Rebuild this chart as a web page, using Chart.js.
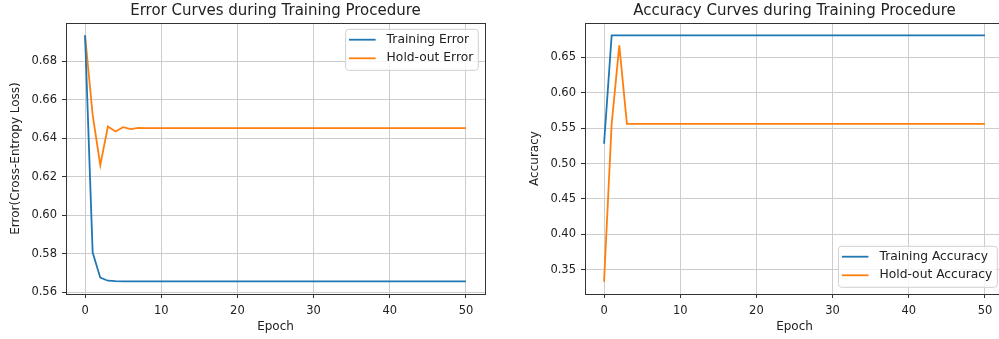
<!DOCTYPE html>
<html>
<head>
<meta charset="utf-8">
<script src="https://cdn.jsdelivr.net/npm/chart.js@4.4.1/dist/chart.umd.min.js"></script>
<style>
html, body { margin: 0; padding: 0; background: #fff; width: 999px; height: 339px; overflow: hidden; }
#errChart { position: absolute; left: 0; top: 0; }
#accChart { position: absolute; left: 500px; top: 0; }
</style>
</head>
<body>
<canvas id="errChart" width="500" height="339"></canvas>
<canvas id="accChart" width="519" height="339"></canvas>
<script>
// data
const epochs = [0,1,2,3,4,5,6,7,8,9,10,11,12,13,14,15,16,17,18,19,20,21,22,23,24,25,
  26,27,28,29,30,31,32,33,34,35,36,37,38,39,40,41,42,43,44,45,46,47,48,49,50];

const trainErr = [0.6935,0.5806,0.5676,0.5660,0.5658,0.5657,0.5657,0.5657,0.5657,0.5657,
  0.5657,0.5657,0.5657,0.5657,0.5657,0.5657,0.5657,0.5657,0.5657,0.5657,
  0.5657,0.5657,0.5657,0.5657,0.5657,0.5657,0.5657,0.5657,0.5657,0.5657,
  0.5657,0.5657,0.5657,0.5657,0.5657,0.5657,0.5657,0.5657,0.5657,0.5657,
  0.5657,0.5657,0.5657,0.5657,0.5657,0.5657,0.5657,0.5657,0.5657,0.5657,0.5657];

const holdErr = [0.6935,0.6522,0.6260,0.6461,0.6435,0.6458,0.6448,0.6454,0.6453,0.6453,
  0.6453,0.6453,0.6453,0.6453,0.6453,0.6453,0.6453,0.6453,0.6453,0.6453,
  0.6453,0.6453,0.6453,0.6453,0.6453,0.6453,0.6453,0.6453,0.6453,0.6453,
  0.6453,0.6453,0.6453,0.6453,0.6453,0.6453,0.6453,0.6453,0.6453,0.6453,
  0.6453,0.6453,0.6453,0.6453,0.6453,0.6453,0.6453,0.6453,0.6453,0.6453,0.6453];

const trainAcc = [0.528,0.681,0.681,0.681,0.681,0.681,0.681,0.681,0.681,0.681,
  0.681,0.681,0.681,0.681,0.681,0.681,0.681,0.681,0.681,0.681,
  0.681,0.681,0.681,0.681,0.681,0.681,0.681,0.681,0.681,0.681,
  0.681,0.681,0.681,0.681,0.681,0.681,0.681,0.681,0.681,0.681,
  0.681,0.681,0.681,0.681,0.681,0.681,0.681,0.681,0.681,0.681,0.681];

const holdAcc = [0.333,0.556,0.667,0.556,0.556,0.556,0.556,0.556,0.556,0.556,
  0.556,0.556,0.556,0.556,0.556,0.556,0.556,0.556,0.556,0.556,
  0.556,0.556,0.556,0.556,0.556,0.556,0.556,0.556,0.556,0.556,
  0.556,0.556,0.556,0.556,0.556,0.556,0.556,0.556,0.556,0.556,
  0.556,0.556,0.556,0.556,0.556,0.556,0.556,0.556,0.556,0.556,0.556];

const xTicks = [0, 10, 20, 30, 40, 50];
const errTicks = [0.56, 0.58, 0.60, 0.62, 0.64, 0.66, 0.68];
const accTicks = [0.35, 0.40, 0.45, 0.50, 0.55, 0.60, 0.65];

const xRange = [-2.5, 52.5];
const errRange = [0.5591, 0.6999];
const accRange = [0.3156, 0.6986];

const blue = '#1f77b4';
const orange = '#ff7f0e';
const gridColor = '#cdcdcd';
const textColor = '#222';

Chart.defaults.font.family = '"DejaVu Sans", sans-serif';
Chart.defaults.color = textColor;

function toPoints(ys) {
    return ys.map((v, i) => ({ x: epochs[i], y: v }));
}

// draws the matplotlib style frame and legend box
const mplBox = {
    id: 'mplBox',
    afterDraw(chart, args, opts) {
        const ctx = chart.ctx;
        const a = chart.chartArea;
        ctx.save();
        ctx.strokeStyle = '#333';
        ctx.lineWidth = 1;
        ctx.strokeRect(Math.round(a.left) + 0.5, Math.round(a.top) + 0.5,
            Math.round(a.right - a.left), Math.round(a.bottom - a.top));

        ctx.font = '12.3px "DejaVu Sans"';
        const sets = chart.data.datasets;
        const textW = Math.max(...sets.map(d => ctx.measureText(d.label).width));
        const w = 3.4 + 26.6 + 11 + textW + 5;
        const h = 41;
        const x = a.right - 6.7 - w;
        const y = opts.loc === 'lower' ? a.bottom - 6.7 - h : a.top + 6.3;
        ctx.beginPath();
        ctx.roundRect(x, y, w, h, 3);
        ctx.fillStyle = 'rgba(255,255,255,0.8)';
        ctx.fill();
        ctx.strokeStyle = '#d0d0d0';
        ctx.stroke();
        sets.forEach((d, i) => {
            const cy = y + 10.4 + i * 18.6;
            ctx.beginPath();
            ctx.moveTo(x + 3.4, cy);
            ctx.lineTo(x + 30, cy);
            ctx.strokeStyle = d.borderColor;
            ctx.lineWidth = 1.8;
            ctx.stroke();
            ctx.fillStyle = textColor;
            ctx.textBaseline = 'middle';
            ctx.textAlign = 'left';
            ctx.fillText(d.label, x + 41, cy);
        });
        ctx.restore();
    }
};

function makeChart(id, cfg) {
    const ctx = document.getElementById(id).getContext('2d');
    return new Chart(ctx, {
        type: 'line',
        data: {
            datasets: [
                { label: cfg.labels[0], data: toPoints(cfg.series[0]), borderColor: blue,
                  borderWidth: 1.8, pointRadius: 0, tension: 0, fill: false },
                { label: cfg.labels[1], data: toPoints(cfg.series[1]), borderColor: orange,
                  borderWidth: 1.8, pointRadius: 0, tension: 0, fill: false }
            ]
        },
        plugins: [mplBox],
        options: {
            responsive: false,
            animation: false,
            devicePixelRatio: 1,
            layout: { padding: { left: 0, right: 15, top: 0, bottom: 0 } },
            plugins: {
                legend: { display: false },
                tooltip: { enabled: false },
                title: {
                    display: true, text: cfg.title, color: textColor, fullSize: false,
                    font: { size: 15, weight: 'normal' },
                    padding: { top: 2.5, bottom: 2.5 }
                },
                mplBox: { loc: cfg.legendLoc }
            },
            scales: {
                x: {
                    type: 'linear', min: xRange[0], max: xRange[1],
                    afterBuildTicks: s => { s.ticks = xTicks.map(v => ({ value: v })); },
                    afterFit: s => { s.height = 45; },
                    grid: { color: gridColor, lineWidth: 1, tickLength: 4, tickColor: '#333' },
                    border: { display: false },
                    ticks: { padding: 6, font: { size: 11.5 }, color: textColor, maxRotation: 0,
                             callback: v => v },
                    title: { display: true, text: 'Epoch', font: { size: 12 }, color: textColor,
                             padding: { top: 0, bottom: 4.5 } }
                },
                y: {
                    type: 'linear', min: cfg.range[0], max: cfg.range[1],
                    afterBuildTicks: s => { s.ticks = cfg.ticks.map(v => ({ value: v })); },
                    afterFit: s => { s.width = cfg.yWidth; },
                    grid: { color: gridColor, lineWidth: 1, tickLength: 4, tickColor: '#333' },
                    border: { display: false },
                    ticks: { padding: 5, font: { size: 11.5 }, color: textColor,
                             callback: v => v.toFixed(2) },
                    title: { display: true, text: cfg.yTitle, font: { size: 12 }, color: textColor,
                             padding: { top: cfg.yTitlePad, bottom: 0 } }
                }
            }
        }
    });
}

makeChart('errChart', {
    title: 'Error Curves during Training Procedure',
    labels: ['Training Error', 'Hold-out Error'],
    series: [trainErr, holdErr],
    range: errRange,
    ticks: errTicks,
    yTitle: 'Error(Cross-Entropy Loss)',
    yWidth: 66,
    yTitlePad: 8.8,
    legendLoc: 'upper'
});

makeChart('accChart', {
    title: 'Accuracy Curves during Training Procedure',
    labels: ['Training Accuracy', 'Hold-out Accuracy'],
    series: [trainAcc, holdAcc],
    range: accRange,
    ticks: accTicks,
    yTitle: 'Accuracy',
    yWidth: 85,
    yTitlePad: 27.8,
    legendLoc: 'lower'
});
</script>
</body>
</html>
